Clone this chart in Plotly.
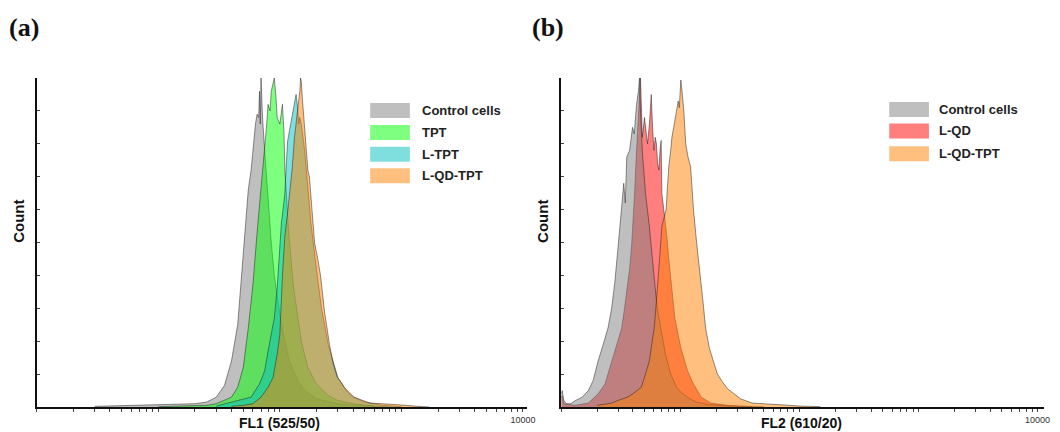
import plotly.graph_objects as go

# ---------------- data ----------------
# Panel (a): FL1 (525/50)
a_ctrl_x = [3, 5, 8, 10, 15, 20, 25, 30, 35, 40, 45, 50, 53, 55, 58, 60, 63, 65, 67, 68, 69, 70, 71, 72, 75, 80, 85, 90, 100, 110, 120, 140, 160, 200, 300, 500, 800]
a_ctrl_y = [0.2, 0.4, 0.5, 0.6, 0.8, 1.0, 1.5, 3, 6.5, 14, 25, 46, 56, 66, 72, 78, 86, 89, 88, 96, 86, 100, 92, 88, 78, 62, 50, 40, 28, 20, 14, 8, 5, 2.5, 1, 0.3, 0]

a_tpt_x = [10, 20, 25, 30, 35, 40, 45, 50, 55, 60, 65, 70, 75, 78, 80, 83, 85, 88, 90, 93, 95, 100, 103, 105, 108, 110, 115, 120, 130, 140, 150, 170, 200, 250, 300, 400, 600]
a_tpt_y = [0.1, 0.3, 0.5, 1, 2, 3, 6, 12, 24, 37, 53, 66, 79, 86, 92, 90, 96, 98, 100, 94, 88, 86, 90, 92, 84, 72, 60, 50, 36, 27, 20, 12, 7, 3.5, 2, 1, 0.3]

a_ltpt_x = [30, 45, 58, 68, 75, 80, 85, 90, 95, 99, 103, 107, 110, 113, 116, 120, 125, 130, 133, 136, 140, 143, 146, 150, 160, 170, 180, 200, 220, 250, 300, 350, 400, 500, 700, 1000]
a_ltpt_y = [0.3, 2, 3, 7, 11, 17, 22, 27, 36, 48, 56, 61, 65, 74, 81, 84, 88, 91, 93, 95, 91, 86, 88, 86, 78, 66, 56, 42, 30, 19, 9, 5, 3, 1.5, 0.5, 0.1]

a_lqdtpt_x = [40, 50, 60, 70, 80, 88, 95, 100, 105, 110, 115, 120, 126, 132, 138, 142, 146, 148, 150, 153, 156, 160, 165, 170, 175, 179, 186, 193, 205, 216, 233, 256, 275, 297, 320, 339, 370, 408, 480, 552, 700, 900, 1100, 1350, 1700]
a_lqdtpt_y = [0.2, 0.5, 1, 3, 6, 9, 16, 22, 40, 52, 58, 65, 72, 82, 88, 92, 96, 100, 99, 94, 90, 86, 78, 72, 70, 65, 58, 50, 45, 40, 29, 19, 13, 9, 7.5, 6, 4.5, 3, 2, 1.2, 1, 0.6, 0.5, 0.2, 0]

# Panel (b): FL2 (610/20)
b_lqd_x = [1.0, 1.02, 1.05, 1.3, 1.69, 2.04, 2.33, 2.67, 3.0, 3.22, 3.4, 3.55, 3.75, 3.9, 4.0, 4.13, 4.25, 4.37, 4.5, 4.63, 4.72, 4.8, 5.0, 5.15, 5.3, 5.5, 5.7, 5.85, 6.0, 6.15, 6.3, 6.45, 6.6, 6.75, 6.9, 7.0, 7.3, 7.7, 8.0, 8.5, 9.0, 10.1, 11.5, 12.9, 15, 18, 25, 40]
b_lqd_y = [3, 3.5, 1, 0.5, 1.2, 4, 7, 14, 20, 24, 30, 35, 42, 49, 55, 65, 75, 85, 92, 100, 90, 82, 88, 84, 80, 86, 95, 85, 78, 82, 80, 74, 72, 78, 81, 65, 60, 52, 45, 35, 27, 18, 11, 7, 3, 1.2, 0.5, 0.1]

b_ctrl_x = [1.0, 1.02, 1.05, 1.1, 1.2, 1.32, 1.5, 1.69, 1.85, 2.04, 2.25, 2.47, 2.65, 2.82, 2.99, 3.1, 3.22, 3.35, 3.45, 3.55, 3.75, 3.97, 4.1, 4.2, 4.29, 4.45, 4.54, 4.65, 4.81, 5.1, 5.49, 6.04, 6.4, 7.0, 7.5, 8.3, 9.3, 10.1, 12, 13.7, 17, 25, 50]
b_ctrl_y = [4, 5, 2, 1, 1, 2, 3, 5, 8, 14, 19, 24, 30, 38, 48, 55, 63, 68, 62, 76, 78, 85, 83, 88, 92, 96, 100, 88, 77, 65, 55, 39, 30, 22, 16, 10, 6, 4.5, 2.5, 1.5, 0.8, 0.3, 0.1]

b_lqdtpt_x = [2.0, 2.66, 3.0, 3.6, 4.0, 4.3, 4.7, 5.0, 5.2, 5.5, 5.8, 6.04, 6.2, 6.4, 6.7, 7.0, 7.3, 7.6, 7.8, 8.0, 8.3, 8.5, 8.8, 9.1, 9.36, 9.6, 9.8, 10.1, 10.4, 10.7, 11.1, 11.6, 12.2, 12.9, 13.7, 14.8, 15.5, 16.3, 17.5, 18.9, 20.5, 22.9, 25, 27.6, 32, 40, 55, 76, 100, 150]
b_lqdtpt_y = [0.5, 1.2, 2, 3, 4, 5, 6, 9, 11, 14, 20, 24, 29, 35, 45, 55, 58, 60, 67, 73, 78, 82, 85, 88, 90, 93, 91, 99.4, 95, 90, 80, 76, 73, 60, 50, 39.5, 32, 24, 18, 14, 10, 7.3, 5.5, 4.3, 2.5, 1.2, 0.8, 0.6, 0.3, 0.1]

# tick definitions
x_tick_vals = [m * 10 ** d for d in range(4) for m in range(1, 10)] + [10000]
x_tick_text = ["" for _ in range(36)] + ["10000"]
y_tick_vals = [0, 10, 20, 30, 40, 50, 60, 70, 80, 90, 100]

legend_a = ["Control cells", "TPT", "L-TPT", "L-QD-TPT"]
legend_b = ["Control cells", "L-QD", "L-QD-TPT"]

# ---------------- styling ----------------
FILL = {
    "gray": "rgba(127,127,127,0.5)",
    "green": "rgba(0,255,0,0.5)",
    "cyan": "rgba(0,191,191,0.5)",
    "orange": "rgba(255,127,0,0.5)",
    "red": "rgba(255,0,0,0.5)",
}
SWATCH = {
    "gray": "rgb(191,191,191)",
    "green": "rgb(127,255,127)",
    "cyan": "rgb(127,223,223)",
    "orange": "rgb(255,191,127)",
    "red": "rgb(255,127,127)",
}
EDGE = dict(color="rgba(30,30,30,0.7)", width=0.7)
SANS = "Liberation Sans, Arial, sans-serif"
SERIF = "Liberation Serif, Times New Roman, serif"

W, H = 1060, 432
fig = go.Figure()


def add(x, y, col, xa, ya):
    fig.add_trace(go.Scatter(x=x, y=y, mode="lines", fill="tozeroy",
                             fillcolor=FILL[col], line=EDGE,
                             xaxis=xa, yaxis=ya, showlegend=False,
                             hoverinfo="skip"))


add(a_ctrl_x, a_ctrl_y, "gray", "x", "y")
add(a_tpt_x, a_tpt_y, "green", "x", "y")
add(a_ltpt_x, a_ltpt_y, "cyan", "x", "y")
add(a_lqdtpt_x, a_lqdtpt_y, "orange", "x", "y")

add(b_lqd_x, b_lqd_y, "red", "x2", "y2")
add(b_ctrl_x, b_ctrl_y, "gray", "x2", "y2")
add(b_lqdtpt_x, b_lqdtpt_y, "orange", "x2", "y2")

ydom = [(H - 407) / H, (H - 78) / H]


def xaxis(dom, rng):
    return dict(type="log", domain=dom, range=rng, showline=True,
                linecolor="#111", linewidth=2, ticks="outside", ticklen=3,
                tickwidth=1, tickcolor="#444", tickmode="array",
                tickvals=x_tick_vals, ticktext=x_tick_text,
                tickfont=dict(family=SANS, size=9, color="#333"),
                showgrid=False, zeroline=False)


def yaxis(anchor):
    return dict(domain=ydom, range=[0, 100], anchor=anchor, showline=True,
                linecolor="#111", linewidth=2, ticks="inside", ticklen=3,
                tickwidth=1, tickcolor="#444", tickmode="array",
                tickvals=y_tick_vals, showticklabels=False,
                showgrid=False, zeroline=False)


fig.update_layout(
    width=W, height=H, margin=dict(l=0, r=0, t=0, b=0),
    paper_bgcolor="white", plot_bgcolor="white", showlegend=False,
    xaxis=dict(xaxis([37 / W, 531 / W], [0, 4.033]), anchor="y"),
    yaxis=yaxis("x"),
    xaxis2=dict(xaxis([565.5 / W, 1051.5 / W], [0, 4.05]), anchor="y2"),
    yaxis2=yaxis("x2"),
)

shapes = []
annotations = []


def px(x):
    return x / W


def py(y):
    return 1 - y / H


def legend(names, cols, x0, y_centers, tx):
    for name, col, yc in zip(names, cols, y_centers):
        shapes.append(dict(type="rect", xref="paper", yref="paper",
                           x0=px(x0), x1=px(x0 + 40), y0=py(yc + 7.5), y1=py(yc - 7.5),
                           fillcolor=SWATCH[col], line=dict(width=0)))
        annotations.append(dict(text="<b>" + name + "</b>", x=px(tx), y=py(yc),
                                xref="paper", yref="paper", xanchor="left", yanchor="middle",
                                showarrow=False, font=dict(family=SANS, size=13, color="#222")))


legend(legend_a, ["gray", "green", "cyan", "orange"], 373, [110.5, 132.5, 154.2, 175.7], 423)
legend(legend_b, ["gray", "red", "orange"], 896, [109.5, 131.0, 153.7], 944)


def text(t, x, y, size, family=SANS, angle=0):
    annotations.append(dict(text="<b>" + t + "</b>", x=px(x), y=py(y), xref="paper", yref="paper",
                            xanchor="center", yanchor="middle", showarrow=False, textangle=angle,
                            font=dict(family=family, size=size, color="#111")))


text("(a)", 24, 27, 26, SERIF)
text("(b)", 552, 27, 26, SERIF)
text("FL1 (525/50)", 282, 423, 14)
text("FL2 (610/20)", 808, 423, 14)
text("Count", 18, 221, 15, angle=-90)
text("Count", 546, 221, 15, angle=-90)

fig.update_layout(shapes=shapes, annotations=annotations)
fig.write_html("out.html",
               config={"displayModeBar": False},
               post_script="document.body.style.margin='0';document.body.style.overflow='hidden';")
